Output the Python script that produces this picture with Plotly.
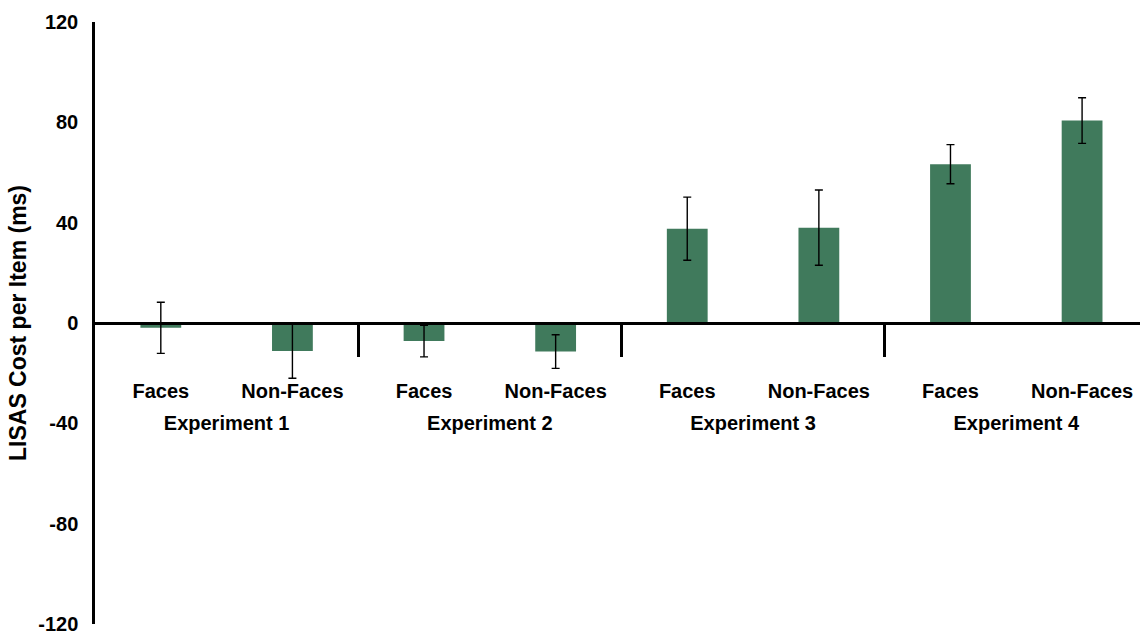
import plotly.graph_objects as go

experiments = ["Experiment 1", "Experiment 2", "Experiment 3", "Experiment 4"]
conditions = ["Faces", "Non-Faces"]
values = [-1.9, -11.2, -7.2, -11.4, 37.6, 38.0, 63.3, 80.7]
errors = [10.2, 10.8, 6.3, 6.7, 12.6, 15.0, 7.8, 9.1]
y_ticks = [-120, -80, -40, 0, 40, 80, 120]
y_tick_labels = ["-120", "-80", "-40", "0", "40", "80", "120"]

n_cond = len(conditions)
positions = list(range(len(values)))
cond_labels = [conditions[i % n_cond] for i in positions]
group_centers = [g * n_cond + (n_cond - 1) / 2 for g in range(len(experiments))]
separators = [g * n_cond + n_cond - 0.5 for g in range(len(experiments) - 1)]

FONT = "Arial, Liberation Sans, Helvetica, sans-serif"
GREEN = "rgb(64,122,92)"

fig = go.Figure()
fig.add_trace(go.Bar(
    x=positions, y=values, width=0.31,
    marker=dict(color=GREEN, line=dict(width=0)),
    error_y=dict(type="data", array=errors, visible=True,
                 color="black", thickness=1.4, width=4),
    xaxis="x", yaxis="y", showlegend=False,
))
# invisible trace so the secondary (group-label) axis renders
fig.add_trace(go.Scatter(x=[group_centers[0]], y=[0], xaxis="x2", yaxis="y",
                         mode="markers", marker=dict(opacity=0), showlegend=False,
                         hoverinfo="skip"))

xrange = [-0.5, 7.44]
fig.update_layout(
    width=1140, height=635,
    margin=dict(l=95, r=0, t=22, b=3),
    plot_bgcolor="white", paper_bgcolor="white",
    font=dict(family=FONT, color="black"),
    xaxis=dict(
        range=xrange, anchor="free", position=0.5,
        showline=True, linecolor="black", linewidth=2.5,
        tickmode="array", tickvals=positions, ticktext=cond_labels,
        ticks="outside", ticklen=49, tickcolor="rgba(0,0,0,0)",
        tickfont=dict(family=FONT, size=20, color="black", weight="bold"),
        showgrid=False, zeroline=False,
        minor=dict(tickmode="array", tickvals=separators, ticks="outside",
                   ticklen=32, tickwidth=2.5, tickcolor="black", showgrid=False),
    ),
    xaxis2=dict(
        range=xrange, overlaying="x", anchor="free", position=0.5,
        showline=False,
        tickmode="array", tickvals=group_centers, ticktext=experiments,
        ticks="outside", ticklen=82, tickcolor="rgba(0,0,0,0)",
        tickfont=dict(family=FONT, size=20, color="black", weight="bold"),
        showgrid=False, zeroline=False,
    ),
    yaxis=dict(
        range=[-120, 120], tickmode="array", tickvals=y_ticks, ticktext=y_tick_labels,
        showline=True, linecolor="black", linewidth=2.5,
        ticks="", showgrid=False, zeroline=False,
        ticklabelstandoff=10, ticklabeloverflow="allow",
        tickfont=dict(family=FONT, size=20, color="black", weight="bold"),
        title=dict(text="LISAS Cost per Item (ms)", standoff=6,
                   font=dict(family=FONT, size=23, color="black", weight="bold")),
    ),
)

fig.write_html("out.html", config={"displayModeBar": False},
               post_script="document.body.style.margin='0';document.body.style.overflow='hidden';")
